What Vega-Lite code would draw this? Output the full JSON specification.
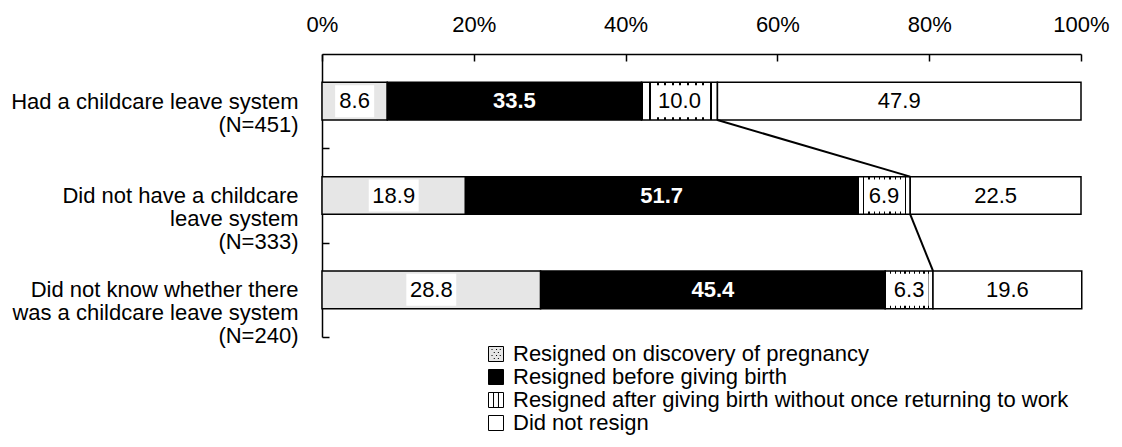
{
  "$schema": "https://vega.github.io/schema/vega-lite/v6.json",
  "width": 759,
  "height": 283,
  "autosize": {"type": "none"},
  "padding": {"left": 322, "top": 54, "right": 41, "bottom": 110},
  "background": "white",
  "config": {
    "view": {"stroke": null},
    "font": "Liberation Sans",
    "axis": {"labelColor": "black", "labelFont": "Liberation Sans", "grid": false, "ticks": true}
  },
  "datasets": {
    "main": [
      {"cat": "Had a childcare leave system|(N=451)", "type": "Resigned on discovery of pregnancy", "value": 8.6},
      {"cat": "Had a childcare leave system|(N=451)", "type": "Resigned before giving birth", "value": 33.5},
      {"cat": "Had a childcare leave system|(N=451)", "type": "Resigned after giving birth without once returning to work", "value": 10.0},
      {"cat": "Had a childcare leave system|(N=451)", "type": "Did not resign", "value": 47.9},
      {"cat": "Did not have a childcare|leave system|(N=333)", "type": "Resigned on discovery of pregnancy", "value": 18.9},
      {"cat": "Did not have a childcare|leave system|(N=333)", "type": "Resigned before giving birth", "value": 51.7},
      {"cat": "Did not have a childcare|leave system|(N=333)", "type": "Resigned after giving birth without once returning to work", "value": 6.9},
      {"cat": "Did not have a childcare|leave system|(N=333)", "type": "Did not resign", "value": 22.5},
      {"cat": "Did not know whether there|was a childcare leave system|(N=240)", "type": "Resigned on discovery of pregnancy", "value": 28.8},
      {"cat": "Did not know whether there|was a childcare leave system|(N=240)", "type": "Resigned before giving birth", "value": 45.4},
      {"cat": "Did not know whether there|was a childcare leave system|(N=240)", "type": "Resigned after giving birth without once returning to work", "value": 6.3},
      {"cat": "Did not know whether there|was a childcare leave system|(N=240)", "type": "Did not resign", "value": 19.6}
    ],
    "links": [
      {"from": "Had a childcare leave system|(N=451)", "to": "Did not have a childcare|leave system|(N=333)", "a": 52.1, "b": 77.5},
      {"from": "Did not have a childcare|leave system|(N=333)", "to": "Did not know whether there|was a childcare leave system|(N=240)", "a": 77.5, "b": 80.5}
    ]
  },
  "layer": [
    {
      "data": {"name": "main"},
      "transform": [
        {"calculate": "indexof(['Resigned on discovery of pregnancy','Resigned before giving birth','Resigned after giving birth without once returning to work','Did not resign'], datum.type)", "as": "k"},
        {"stack": "value", "groupby": ["cat"], "sort": [{"field": "k", "order": "ascending"}], "as": ["x0", "x1"]},
        {"calculate": "(datum.x0 + datum.x1) / 2", "as": "mid"}
      ],
      "layer": [
        {
          "mark": {"type": "bar", "stroke": "black", "strokeWidth": 1.5},
          "encoding": {
            "y": {
              "field": "cat", "type": "nominal", "sort": null,
              "scale": {
                "domain": ["Had a childcare leave system|(N=451)", "Did not have a childcare|leave system|(N=333)", "Did not know whether there|was a childcare leave system|(N=240)"],
                "paddingInner": 0.6, "paddingOuter": 0.3
              },
              "axis": {
                "title": null, "domainColor": "black", "domainWidth": 1.5,
                "ticks": true, "tickColor": "black", "tickWidth": 1.5, "tickSize": -7,
                "tickOffset": 47.17, "labelOffset": -47.17,
                "labelExpr": "split(datum.label, '|')", "labelFontSize": 22, "labelPadding": 31,
                "labelLineHeight": 23, "labelLimit": 500,
                "encode": {
                  "labels": {"update": {"dy": {"signal": "-(length(split(datum.label, '|')) - 1) * 11.5"}}}
                }
              }
            },
            "x": {
              "field": "x0", "type": "quantitative",
              "scale": {"domain": [0, 100], "nice": false},
              "axis": {
                "orient": "top", "title": null, "values": [0, 20, 40, 60, 80, 100],
                "labelExpr": "datum.value + '%'", "domainColor": "black", "domainWidth": 1.5,
                "ticks": true, "tickColor": "black", "tickWidth": 1.5, "tickSize": -7,
                "labelFontSize": 22, "labelPadding": 25, "labelFlush": false
              }
            },
            "x2": {"field": "x1"},
            "color": {
              "condition": {
                "test": "datum.type === 'Resigned after giving birth without once returning to work'",
                "value": {"gradient": "linear", "x1": 0, "y1": 0, "x2": 1, "y2": 0, "stops": [
                    {"offset": 0, "color": "#000"}, {"offset": 0.025, "color": "#000"}, {"offset": 0.025, "color": "#fff"}, {"offset": 0.1, "color": "#fff"},
                    {"offset": 0.1, "color": "#000"}, {"offset": 0.125, "color": "#000"}, {"offset": 0.125, "color": "#fff"}, {"offset": 0.2, "color": "#fff"},
                    {"offset": 0.2, "color": "#000"}, {"offset": 0.225, "color": "#000"}, {"offset": 0.225, "color": "#fff"}, {"offset": 0.3, "color": "#fff"},
                    {"offset": 0.3, "color": "#000"}, {"offset": 0.325, "color": "#000"}, {"offset": 0.325, "color": "#fff"}, {"offset": 0.4, "color": "#fff"},
                    {"offset": 0.4, "color": "#000"}, {"offset": 0.425, "color": "#000"}, {"offset": 0.425, "color": "#fff"}, {"offset": 0.5, "color": "#fff"},
                    {"offset": 0.5, "color": "#000"}, {"offset": 0.525, "color": "#000"}, {"offset": 0.525, "color": "#fff"}, {"offset": 0.6, "color": "#fff"},
                    {"offset": 0.6, "color": "#000"}, {"offset": 0.625, "color": "#000"}, {"offset": 0.625, "color": "#fff"}, {"offset": 0.7, "color": "#fff"},
                    {"offset": 0.7, "color": "#000"}, {"offset": 0.725, "color": "#000"}, {"offset": 0.725, "color": "#fff"}, {"offset": 0.8, "color": "#fff"},
                    {"offset": 0.8, "color": "#000"}, {"offset": 0.825, "color": "#000"}, {"offset": 0.825, "color": "#fff"}, {"offset": 0.9, "color": "#fff"},
                    {"offset": 0.9, "color": "#000"}, {"offset": 0.925, "color": "#000"}, {"offset": 0.925, "color": "#fff"}, {"offset": 1, "color": "#fff"}
                ]}
              },
              "field": "type", "type": "nominal",
              "scale": {
                "domain": ["Resigned on discovery of pregnancy", "Resigned before giving birth", "Resigned after giving birth without once returning to work", "Did not resign"],
                "range": ["#e6e6e6", "#000000", "#ffffff", "#ffffff"]
              },
              "legend": {
                "title": null, "orient": "none", "legendX": 163, "legendY": 289,
                "direction": "vertical", "symbolType": "square", "symbolSize": 225,
                "symbolStrokeColor": "black", "symbolStrokeWidth": 1, "symbolOpacity": 1,
                "labelFontSize": 22, "labelColor": "black", "labelFont": "Liberation Sans",
                "labelLimit": 800, "rowPadding": 1, "labelOffset": 6,
                "encode": {
                  "symbols": {
                    "update": {
                      "stroke": {"value": "black"},
                      "strokeWidth": {"value": 1},
                      "shape": {"signal": "datum.value === 'Resigned after giving birth without once returning to work' ? 'M-1,-1H1V1H-1Z M-0.33,-1V1 M0.33,-1V1' : datum.value === 'Resigned on discovery of pregnancy' ? 'M-1,-1H1V1H-1Z M-0.6,-0.6h0.14 M0.0,-0.6h0.14 M0.5,-0.6h0.14 M-0.3,-0.2h0.14 M0.25,-0.2h0.14 M-0.6,0.2h0.14 M0.0,0.2h0.14 M0.5,0.2h0.14 M-0.3,0.6h0.14 M0.25,0.6h0.14' : 'square'"}
                    }
                  }
                }
              }
            }
          }
        },
        {
          "transform": [{"filter": "datum.type === 'Resigned on discovery of pregnancy' || datum.type === 'Resigned after giving birth without once returning to work'"}],
          "mark": {"type": "point", "filled": true, "fill": "white", "strokeWidth": 0, "opacity": 1, "size": 1024},
          "encoding": {
            "x": {"field": "mid", "type": "quantitative"},
            "y": {"field": "cat", "type": "nominal", "sort": null},
            "shape": {"condition": {"test": "datum.value >= 10", "value": "M-1.56,-1H1.56V1H-1.56Z"}, "value": "M-1.22,-1H1.22V1H-1.22Z"}
          }
        },
        {
          "transform": [{"filter": "datum.type !== 'Resigned before giving birth'"}],
          "mark": {"type": "text", "fontSize": 22, "font": "Liberation Sans", "fill": "black", "baseline": "middle", "align": "center"},
          "encoding": {
            "x": {"field": "mid", "type": "quantitative"},
            "y": {"field": "cat", "type": "nominal", "sort": null},
            "text": {"field": "value", "type": "quantitative", "format": ".1f"}
          }
        },
        {
          "transform": [{"filter": "datum.type === 'Resigned before giving birth'"}],
          "mark": {"type": "text", "fontSize": 22, "font": "Liberation Sans", "fontWeight": "bold", "fill": "white", "baseline": "middle", "align": "center"},
          "encoding": {
            "x": {"field": "mid", "type": "quantitative"},
            "y": {"field": "cat", "type": "nominal", "sort": null},
            "text": {"field": "value", "type": "quantitative", "format": ".1f"}
          }
        }
      ]
    },
    {
      "data": {"name": "links"},
      "mark": {"type": "rule", "stroke": "black", "strokeWidth": 2},
      "encoding": {
        "x": {"field": "a", "type": "quantitative"},
        "x2": {"field": "b"},
        "y": {"field": "from", "type": "nominal", "sort": null, "bandPosition": 1},
        "y2": {"field": "to", "bandPosition": 0}
      }
    }
  ]
}
